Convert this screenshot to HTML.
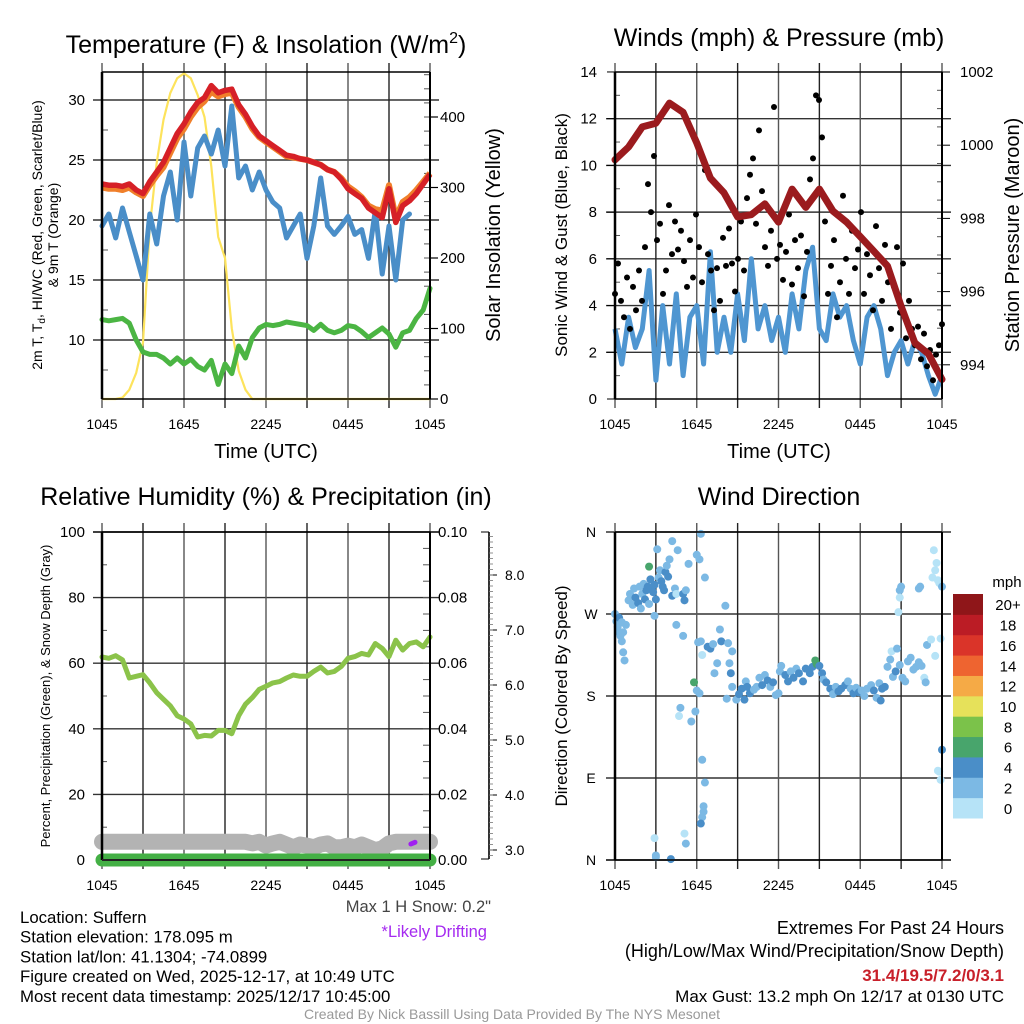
<!DOCTYPE html>
<html><head><meta charset="utf-8"><style>
html,body{margin:0;padding:0;background:#fff;}
svg{display:block;font-family:"Liberation Sans",Arial,sans-serif;}
</style></head><body>
<svg id="fig" width="1024" height="1024" viewBox="0 0 1024 1024" xmlns="http://www.w3.org/2000/svg">
<rect width="1024" height="1024" fill="#fff"/>
</svg>
<script>
// ---------- DATA ----------
const timeLabels = ["1045","1645","2245","0445","1045"];
// Temperature panel (half-hourly, t = 0..24 h)
const tempRed = [23.0,22.9,22.9,22.8,23.0,22.5,22.2,23.2,24.0,24.8,26.0,27.2,28.0,29.0,29.8,30.2,31.2,30.6,30.8,30.9,29.6,28.8,27.8,27.0,26.6,26.2,25.8,25.4,25.3,25.1,25.0,24.8,24.6,24.2,24.0,23.4,22.6,22.2,21.8,21.0,20.6,20.2,22.6,19.8,21.2,21.6,22.2,23.0,23.8];
const tempOrange = [22.7,22.6,22.6,22.5,22.7,22.3,22.0,22.9,23.7,24.4,25.6,26.8,27.6,28.6,29.4,29.9,30.7,30.3,30.5,30.6,29.4,28.6,27.6,26.9,26.5,26.1,25.7,25.3,25.2,25.1,25.0,24.8,24.6,24.2,24.0,23.5,22.8,22.4,21.9,21.2,20.9,20.8,22.9,20.2,21.5,21.9,22.5,23.2,23.9];
const tempBlue = [19.5,20.5,18.5,21.0,19.0,17.0,15.0,20.5,18.0,22.0,24.0,20.0,26.5,22.0,26.0,27.0,25.5,27.5,24.5,29.5,23.5,24.5,22.5,24.0,22.5,21.5,21.0,18.5,19.5,20.5,16.8,19.5,23.5,19.5,18.8,19.5,20.3,18.8,19.2,16.8,20.8,15.5,19.5,15.0,20.0,20.5,null,null,null];
const tempGreen = [11.7,11.6,11.7,11.8,11.4,10.0,9.0,8.8,8.8,8.5,8.0,8.5,8.0,8.4,7.8,7.5,8.3,6.3,8.0,7.2,9.5,8.5,10.2,11.0,11.3,11.2,11.3,11.5,11.4,11.3,11.2,10.8,11.3,10.8,10.6,10.8,11.2,11.1,10.7,10.2,10.6,11.0,10.5,9.4,10.6,10.8,11.8,12.5,14.3];
const solar = [0,0,0,2,13,37,80,244,335,396,434,455,462,455,431,400,330,230,200,100,40,13,0,0,0,0,0,0,0,0,0,0,0,0,0,0,0,0,0,0,0,0,0,0,0,0,0,0,0];
const tempTicks = [10,15,20,25,30];
const solarTicks = [0,100,200,300,400];
// Winds panel
const windSpeed = [3.0,1.5,3.5,2.2,3.0,5.5,0.8,4.0,1.5,4.5,1.0,3.5,4.0,1.5,6.3,2.0,3.5,2.0,4.5,2.5,6.0,3.0,4.0,2.5,3.5,2.0,4.5,3.0,5.5,6.5,3.0,2.5,4.5,3.5,4.0,2.5,1.5,3.5,4.0,3.0,1.0,2.0,2.5,1.5,2.5,2.0,1.0,0.2,1.0];
const gustValues = [4.5,5.8,4.2,3.5,5.2,3.0,4.8,3.8,5.5,4.2,6.5,9.2,8.0,10.4,6.8,7.5,4.5,5.5,8.3,6.2,7.6,6.4,7.2,5.9,4.8,6.8,5.2,7.9,6.5,5.0,9.8,6.2,5.5,3.8,5.6,4.2,6.9,5.7,7.3,5.8,4.6,6.0,7.6,5.5,8.6,9.6,10.3,7.5,11.5,8.9,6.5,5.7,7.2,12.5,6.0,6.6,5.1,6.3,7.9,4.9,6.8,5.6,7.0,4.4,6.3,9.4,10.3,13.0,12.8,11.2,7.6,4.5,5.7,6.8,3.5,5.0,8.7,6.0,4.5,7.2,5.6,6.4,8.0,4.5,6.2,5.3,3.8,7.4,5.6,4.2,6.6,5.0,3.0,4.8,6.5,3.7,5.8,2.6,4.2,3.0,2.3,3.1,1.7,2.8,1.4,2.1,0.8,1.9,2.3,3.2];
const pressure = [999.6,999.95,1000.5,1000.6,1001.15,1000.9,1000.06,999.1,998.7,998.04,998.1,998.4,997.9,998.8,998.3,998.8,998.2,997.9,997.5,997.1,996.7,995.6,994.6,994.3,993.6];
const windTicks = [0,2,4,6,8,10,12,14];
const pressTicks = [994,996,998,1000,1002];
// RH panel
const rh = [61.9,61.5,62.3,61,55.5,56,56.5,54,51,49,47,44,43,41.5,37.5,38,37.8,39.5,39.5,38.5,44,47.5,49.5,52,53,54,54.4,55.5,56.4,56,56,57.5,58.8,57,57.5,59,61.5,62,63,62.5,66,64.5,62,67,64,66,66.5,65,68];
const precip = [0,0,0,0,0,0,0,0,0,0,0,0,0,0,0,0,0,0,0,0,0,0,0,0,0];
const snowDepth = [3.15,3.15,3.15,3.15,3.15,3.15,3.15,3.15,3.15,3.15,3.15,3.15,3.15,3.15,3.15,3.15,3.15,3.15,3.15,3.15,3.15,3.15,3.12,3.15,3.08,3.12,3.15,3.1,3.05,3.1,3.08,3.05,3.1,3.12,3.05,3.05,3.08,3.05,3.1,3.05,3.0,3.03,3.12,3.15,3.15,3.15,3.15,3.15,3.15];
const driftTimes = [22.6,22.9];
const driftValues = [3.11,3.14];
const rhTicks = [0,20,40,60,80,100];
const precipTicks = ["0.00","0.02","0.04","0.06","0.08","0.10"];
const snowTicks = ["3.0","4.0","5.0","6.0","7.0","8.0"];
// Wind direction panel
const dirTimes = [0,0.1,0.2,0.3,0.4,0.5,0.6,0.7,0.3,0.5,0.8,0.6,
1.0,1.1,1.3,1.4,1.5,1.7,1.8,1.9,2.0,2.1,2.2,2.3,2.4,2.5,2.6,2.7,2.8,2.9,3.0,3.1,2.5,3.2,3.3,3.4,3.5,3.6,3.7,3.8,3.9,4.0,4.2,4.4,4.5,4.6,5.0,5.1,5.2,4.2,5.4,6.2,6.3,6.6,6.0,4.5,
5.0,2.9,6.1,6.3,6.4,6.8,5.8,6.0,4.8,4.7,5.6,5.9,6.2,6.4,6.6,6.5,6.4,5.1,5.2,2.9,3.0,3.0,4.1,6.3,6.5,
7.0,7.2,7.5,7.3,7.7,7.8,8.1,8.3,8.4,8.6,8.5,8.2,8.6,8.9,9.1,9.3,9.6,9.7,9.5,9.9,10.2,10.4,10.6,10.8,11.0,11.2,11.4,11.6,11.8,12.0,12.1,12.2,12.5,12.7,12.9,13.1,13.3,13.5,13.8,14.0,14.3,14.5,14.7,14.8,15.0,15.2,15.3,15.5,15.8,16.0,16.2,16.4,16.6,16.9,17.1,17.3,17.5,17.7,17.9,18.1,18.3,18.5,18.8,19.0,19.2,19.5,19.4,19.6,19.8,20.0,20.2,20.4,20.6,20.9,21.1,21.3,21.5,21.7,21.9,22.1,22.3,22.5,22.7,22.8,20.3,20.7,20.9,21.0,20.9,20.8,22.3,22.4,22.9,23.2,23.5,23.5,23.6,23.4,23.7,23.8,23.3,24.0,23.9,23.8,23.9,23.7,24.0];
const dirDegrees = [270,262,256,250,246,240,228,219,266,261,258,250,
285,292,280,298,288,282,300,276,292,303,286,296,300,322,308,298,294,302,286,341,281,310,318,306,300,296,316,323,311,330,290,298,292,340,292,285,296,350,325,330,358,310,335,258,
246,268,239,240,225,234,195,186,167,158,152,163,183,110,85,59,47,29,18,24,5,3,1,40,53,
232,237,216,205,253,240,279,238,216,229,205,177,190,176,182,188,196,190,176,183,187,190,200,192,203,197,190,195,181,183,207,213,203,196,207,200,210,205,196,210,205,212,219,215,213,205,198,195,188,182,190,185,188,192,196,188,183,189,184,186,180,188,192,186,178,175,194,188,190,212,220,201,207,214,200,196,218,222,209,212,217,213,200,195,229,232,296,300,288,272,298,300,236,242,224,318,326,340,307,304,310,300,243,97,88,98,121];
const dirSpeeds = [2,2,3,2,2,2,2,2,4,2,2,2,
2,2,3,2,4,4,2,2,2,2,4,4,4,6,4,4,4,4,4,2,2,3,2,4,4,4,4,2,4,3,4,2,0,2,4,4,2,2,2,2,2,2,2,2,
2,2,2,2,0,4,6,2,2,0,2,2,2,2,2,2,2,0,2,0,2,2,4,4,2,
4,2,2,2,2,4,2,2,2,2,4,2,2,2,4,4,2,4,4,4,2,2,2,4,2,4,2,4,2,2,2,2,4,4,2,4,2,4,4,4,4,4,6,6,4,4,2,4,4,2,2,4,4,4,2,2,4,2,4,2,2,2,2,4,2,4,2,4,4,2,2,2,4,2,2,2,2,2,2,2,2,2,0,2,0,2,2,2,0,0,2,2,2,0,0,0,0,0,0,0,0,2,0,0,0,0,4];
const dirTickLabels = ["N","E","S","W","N"];
const speedBinLabels = ["0","2","4","6","8","10","12","14","16","18","20+"];
const speedBinColors = ["#b6e3f7","#7cb9e4","#4a8ec8","#48a56c","#7bc24a","#e6e15a","#f5aa46","#ee6430","#da3429","#bb1c25","#8f1619"];

// ---------- HELPERS ----------
const NS="http://www.w3.org/2000/svg";
const svg=document.getElementById('fig');
function mk(tag,attrs,parent,text){const e=document.createElementNS(NS,tag);for(const k in attrs)e.setAttribute(k,attrs[k]);if(text!==undefined)e.textContent=text;(parent||svg).appendChild(e);return e;}
function txt(x,y,s,size,anchor,parent,extra){const a=Object.assign({x:x,y:y,'font-size':size,'text-anchor':anchor||'middle',fill:'#000'},extra||{});return mk('text',a,parent,s);}
function linePath(xs,ys){let d='',pen=false;for(let i=0;i<xs.length;i++){if(ys[i]===null||isNaN(ys[i])){pen=false;continue;}d+=(pen?'L':'M')+xs[i].toFixed(1)+' '+ys[i].toFixed(1);pen=true;}return d;}
function halfHour(n){return Array.from({length:n},(_,i)=>i*24/(n-1));}

function panel(name,L,R,T,B){
  const g=mk('g',{},svg);
  
  
  return {g:g,L:L,R:R,T:T,B:B,x:t=>L+t*(R-L)/24};
}
function timeAxis(P){
  const gg=mk('g',{},P.g);
  
  
  for(let k=0;k<=8;k++){const x=P.x(k*3);
    mk('line',{x1:x,x2:x,y1:P.T-9,y2:P.B+9,stroke:(k%2?'#222':'#555'),'stroke-width':1.4},gg);}
  timeLabels.forEach((s,i)=>{txt(P.x(i*6),P.B+30,s,14,'middle',gg);});
}
function hGrid(P,ys){ys.forEach(y=>mk('line',{x1:P.L-9,x2:P.R+9,y1:y,y2:y,stroke:'#333','stroke-width':1.4},P.g));}
function frame(P){mk('line',{x1:P.L,x2:P.L,y1:P.T,y2:P.B,stroke:'#000','stroke-width':2.5},P.g);mk('line',{x1:P.R,x2:P.R,y1:P.T,y2:P.B,stroke:'#000','stroke-width':2},P.g);mk('line',{x1:P.L,x2:P.R,y1:P.T,y2:P.T,stroke:'#000','stroke-width':1.5},P.g);mk('line',{x1:P.L,x2:P.R,y1:P.B,y2:P.B,stroke:'#000','stroke-width':1.5},P.g);}

// ---------- PANEL 1: Temperature ----------
(function(){
  const P=panel('temperature-panel',102,430,72,399);
  const yT=v=>100+(30-v)*12;
  const yS=v=>399-v*0.705;
  const t=halfHour(49);
  const xs=t.map(P.x);
  hGrid(P,tempTicks.map(yT));
  timeAxis(P);
  [7.5,12.5,17.5,22.5,27.5,32.5].forEach(v=>{if(yT(v)>P.T)mk('line',{x1:P.L,x2:P.L+6,y1:yT(v),y2:yT(v),stroke:'#555'},P.g);});
  for(let v=20;v<=460;v+=20)mk('line',{x1:P.R-6,x2:P.R,y1:yS(v),y2:yS(v),stroke:'#555'},P.g);
  solarTicks.forEach(v=>mk('line',{x1:P.R,x2:P.R+8,y1:yS(v),y2:yS(v),stroke:'#000','stroke-width':1.2},P.g));
  tempTicks.forEach(v=>txt(85,yT(v)+5,String(v),15,'end',P.g));
  solarTicks.forEach(v=>txt(440,yS(v)+5,String(v),15,'start',P.g));
  const so=mk('path',{d:linePath(xs,solar.map(yS)),fill:'none',stroke:'#fde35c','stroke-width':2.2},P.g);
  
  
  const gr=mk('path',{d:linePath(xs,tempGreen.map(yT)),fill:'none',stroke:'#4bb543','stroke-width':5,'stroke-linejoin':'round','stroke-linecap':'round'},P.g);
  
  
  const bl=mk('path',{d:linePath(xs,tempBlue.map(v=>v===null?null:yT(v))),fill:'none',stroke:'#4a8ec8','stroke-width':5,'stroke-linejoin':'round','stroke-linecap':'round'},P.g);
  
  
  const or=mk('path',{d:linePath(xs,tempOrange.map(yT)),fill:'none',stroke:'#f07f2a','stroke-width':6,'stroke-linejoin':'round'},P.g);
  
  
  const rd=mk('path',{d:linePath(xs,tempRed.map(yT)),fill:'none',stroke:'#d62027','stroke-width':5.5,'stroke-linejoin':'round'},P.g);
  
  
  frame(P);
  const ti=txt(266,53,'',25,'middle',P.g);
  ti.innerHTML='Temperature (F) &amp; Insolation (W/m<tspan font-size="16" dy="-10">2</tspan><tspan dy="10">)</tspan>';
  
  
  const yl=txt(0,0,'',14,'middle',P.g,{transform:'translate(42,235) rotate(-90)'});
  yl.innerHTML='2m T, T<tspan font-size="10" dy="3">d</tspan><tspan dy="-3">, HI/WC (Red, Green, Scarlet/Blue)</tspan>';
  
  
  txt(0,0,'& 9m T (Orange)',14,'middle',P.g,{transform:'translate(58,235) rotate(-90)'});
  const yr=txt(0,0,'Solar Insolation (Yellow)',20,'middle',P.g,{transform:'translate(500,235) rotate(-90)'});
  
  
  const xt=txt(266,458,'Time (UTC)',20,'middle',P.g);
  
  
})();

// ---------- PANEL 2: Winds ----------
(function(){
  const P=panel('winds-panel',615,942,72,399);
  const yW=v=>399-v*23.36;
  const yP=v=>72+(1002-v)*36.6;
  hGrid(P,windTicks.filter(v=>v>0&&v<14).map(yW));
  timeAxis(P);
  windTicks.forEach(v=>{mk('line',{x1:P.L-8,x2:P.L,y1:yW(v),y2:yW(v),stroke:'#000'},P.g);txt(597,yW(v)+5,String(v),15,'end',P.g);});
  for(let v=1;v<14;v+=2)mk('line',{x1:P.L,x2:P.L+5,y1:yW(v),y2:yW(v),stroke:'#555'},P.g);
  pressTicks.forEach(v=>{mk('line',{x1:P.R,x2:P.R+8,y1:yP(v),y2:yP(v),stroke:'#000'},P.g);txt(960,yP(v)+5,String(v),15,'start',P.g);});
  for(let v=993.5;v<1002;v+=0.5)mk('line',{x1:P.R-5,x2:P.R,y1:yP(v),y2:yP(v),stroke:'#555'},P.g);
  const xs=halfHour(49).map(P.x);
  const w=mk('path',{d:linePath(xs,windSpeed.map(yW)),fill:'none',stroke:'#4f96d1','stroke-width':5,'stroke-linejoin':'round'},P.g);
  
  
  const gt=halfHour(gustValues.length);
  gustValues.forEach((v,i)=>{
    const c=mk('circle',{cx:P.x(gt[i]),cy:yW(v),r:3,fill:'#000'},P.g);
    
    
  });
  const px=halfHour(pressure.length).map(P.x);
  const p=mk('path',{d:linePath(px,pressure.map(yP)),fill:'none',stroke:'#9b1b1e','stroke-width':7,'stroke-linejoin':'round','stroke-linecap':'round'},P.g);
  
  
  frame(P);
  const ti=txt(779,46,'Winds (mph) & Pressure (mb)',25,'middle',P.g);
  
  
  const yl=txt(0,0,'Sonic Wind & Gust (Blue, Black)',17,'middle',P.g,{transform:'translate(567,235) rotate(-90)'});
  
  
  const yr=txt(0,0,'Station Pressure (Maroon)',20,'middle',P.g,{transform:'translate(1019,235) rotate(-90)'});
  
  
  const xt=txt(779,458,'Time (UTC)',20,'middle',P.g);
  
  
})();

// ---------- PANEL 3: RH ----------
(function(){
  const P=panel('humidity-panel',102,430,532,860);
  const yR=v=>860-v*3.28;
  const yPr=v=>860-v*3280;
  const yS=v=>850-(v-3)*55;
  hGrid(P,rhTicks.filter(v=>v>0&&v<100).map(yR));
  timeAxis(P);
  mk('line',{x1:P.L-9,x2:P.R+9,y1:P.T,y2:P.T,stroke:'#000','stroke-width':1.4},P.g);
  rhTicks.forEach(v=>txt(85,yR(v)+5,String(v),15,'end',P.g));
  for(let v=10;v<100;v+=20)mk('line',{x1:P.L,x2:P.L+5,y1:yR(v),y2:yR(v),stroke:'#555'},P.g);
  for(let v=5;v<100;v+=5)mk('line',{x1:P.R-7,x2:P.R,y1:yR(v),y2:yR(v),stroke:'#555'},P.g);
  precipTicks.forEach(s=>txt(438,yPr(parseFloat(s))+5,s,15,'start',P.g));
  const sa=mk('g',{},P.g);
  
  
  mk('line',{x1:489,x2:489,y1:532,y2:859,stroke:'#000','stroke-width':1.6},sa);
  snowTicks.forEach(s=>{const y=yS(parseFloat(s));mk('line',{x1:489,x2:497,y1:y,y2:y,stroke:'#000'},sa);txt(505,y+5,s,14,'start',sa);});
  for(let v=2.9;v<=8.7;v+=0.1){const y=yS(v);if(y>=533&&y<=859)mk('line',{x1:489,x2:493,y1:y,y2:y,stroke:'#777','stroke-width':0.8},sa);}
  mk('line',{x1:481,x2:489,y1:859,y2:859,stroke:'#000'},sa);mk('line',{x1:481,x2:489,y1:532,y2:532,stroke:'#000'},sa);
  const xs=halfHour(49).map(P.x);
  const sn=mk('path',{d:linePath(xs,snowDepth.map(yS)),fill:'none',stroke:'#b3b3b3','stroke-width':16,'stroke-linejoin':'round','stroke-linecap':'round'},P.g);
  
  
  const dr=mk('path',{d:linePath(driftTimes.map(P.x),driftValues.map(yS)),fill:'none',stroke:'#a020f0','stroke-width':5,'stroke-linecap':'round'},P.g);
  
  
  const pxs=halfHour(precip.length).map(P.x);
  const pr=mk('path',{d:linePath(pxs,precip.map(yPr)),fill:'none',stroke:'#44b045','stroke-width':13,'stroke-linecap':'round'},P.g);
  
  
  const rl=mk('path',{d:linePath(xs,rh.map(yR)),fill:'none',stroke:'#8bc34a','stroke-width':5,'stroke-linejoin':'round','stroke-linecap':'round'},P.g);
  
  
  frame(P);
  mk('line',{x1:P.L,x2:P.R,y1:P.B,y2:P.B,stroke:'#222','stroke-width':2},P.g);
  const ti=txt(266,505,'Relative Humidity (%) & Precipitation (in)',25,'middle',P.g);
  
  
  const yl=txt(0,0,'Percent, Precipitation (Green), & Snow Depth (Gray)',13,'middle',P.g,{transform:'translate(50,696) rotate(-90)'});
  
  
})();

// ---------- PANEL 4: Wind direction ----------
(function(){
  const P=panel('wind-direction-panel',615,942,532,860);
  const yD=v=>860-v*328/360;
  hGrid(P,[90,180,270,360].map(yD));
  timeAxis(P);
  mk('line',{x1:P.L-9,x2:P.R+9,y1:P.B,y2:P.B,stroke:'#000','stroke-width':1.4},P.g);
  dirTickLabels.forEach((s,i)=>txt(591,yD(i*90)+5,s,14,'middle',P.g));
  dirTimes.forEach((t,i)=>{
    const bin=Math.min(10,Math.floor(dirSpeeds[i]/2));
    const c=mk('circle',{cx:P.x(t),cy:yD(dirDegrees[i]),r:4,fill:speedBinColors[bin]},P.g);
    
    
  });
  frame(P);
  const ti=txt(779,505,'Wind Direction',25,'middle',P.g);
  
  
  const yl=txt(0,0,'Direction (Colored By Speed)',17,'middle',P.g,{transform:'translate(567,696) rotate(-90)'});
  
  
  const cb=mk('g',{},P.g);
  
  
  const top=594,h=224/11;
  speedBinColors.forEach((c,i)=>{
    const y=top+(10-i)*h;
    const r=mk('rect',{x:953,y:y,width:30,height:h+0.5,fill:c},cb);
    
    
    txt(1008,y+h/2+6,speedBinLabels[i],15,'middle',cb);
  });
  txt(1007,587,'mph',15,'middle',cb);
})();

// ---------- FOOTER TEXT ----------
(function(){
  const g=mk('g',{},svg);
  
  
  ["Location: Suffern","Station elevation: 178.095 m","Station lat/lon: 41.1304; -74.0899","Figure created on Wed, 2025-12-17, at 10:49 UTC","Most recent data timestamp: 2025/12/17 10:45:00"].forEach((s,i)=>txt(20,923+i*19.7,s,16.8,'start',g));
  const s1=txt(491,912,'Max 1 H Snow: 0.2"',16.5,'end',svg,{fill:'#444'});
  
  
  const s2=txt(487,937,'*Likely Drifting',16.5,'end',svg,{fill:'#a52af0'});
  
  
  const e=mk('g',{},svg);
  
  
  txt(1004,934,'Extremes For Past 24 Hours',18,'end',e);
  txt(1004,957,'(High/Low/Max Wind/Precipitation/Snow Depth)',18,'end',e);
  txt(1004,981,'31.4/19.5/7.2/0/3.1',17,'end',e,{fill:'#c8202a','font-weight':'bold'});
  txt(1004,1002,'Max Gust: 13.2 mph On 12/17 at 0130 UTC',17,'end',e);
  const c=txt(512,1019,'Created By Nick Bassill Using Data Provided By The NYS Mesonet',14,'middle',svg,{fill:'#999'});
  
  
})();
</script>
</body></html>
